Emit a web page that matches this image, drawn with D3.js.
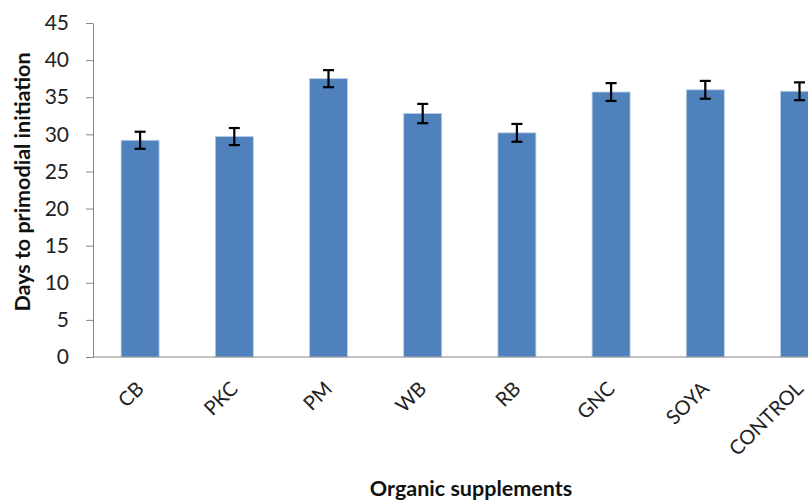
<!DOCTYPE html>
<html><head><meta charset="utf-8">
<script src="https://cdn.jsdelivr.net/npm/d3@7"></script>
<style>body{margin:0;background:#fff;} svg{display:block;}</style>
</head><body>
<script>
const categories = ["CB","PKC","PM","WB","RB","GNC","SOYA","CONTROL"];
const values = [29.2, 29.7, 37.5, 32.8, 30.2, 35.7, 36.0, 35.8];
const errors = [1.15, 1.15, 1.15, 1.3, 1.2, 1.2, 1.2, 1.2];
const yTicks = [0,5,10,15,20,25,30,35,40,45];

const W = 808, H = 500;
const font = "Lato, 'Open Sans', sans-serif";
const svg = d3.select("body").append("svg").attr("width", W).attr("height", H);

const x0 = 93, x1 = 93 + 94.2*8, yTop = 23, yBot = 357;
const x = d3.scaleBand().domain(categories).range([x0, x1]).paddingInner(0.597).paddingOuter(0.2985);
const y = d3.scaleLinear().domain([0,45]).range([yBot, yTop]);

// y axis
const yAxis = d3.axisLeft(y).tickValues(yTicks).tickSize(7).tickSizeOuter(0).tickPadding(6);
const gy = svg.append("g").attr("transform", `translate(${x0},0)`).call(yAxis);
gy.select(".domain").attr("stroke", "#868686");
gy.selectAll(".tick line").attr("stroke", "#868686");
gy.selectAll(".tick text").attr("font-family", font).attr("font-size", 21).attr("fill", "#222").attr("dx", -11);

// bars
svg.append("g").selectAll("rect").data(categories).join("rect")
  .attr("x", d => x(d)).attr("width", x.bandwidth())
  .attr("y", (d,i) => y(values[i])).attr("height", (d,i) => y(0) - y(values[i]))
  .attr("fill", "#4F81BD").attr("stroke", "#b8cce4").attr("stroke-width", 0.8);

// x axis line
svg.append("line").attr("x1", x0).attr("x2", W).attr("y1", y(0)).attr("y2", y(0))
  .attr("stroke", "#868686").attr("stroke-width", 1);

// error bars
const eb = svg.append("g").attr("stroke", "#000").attr("stroke-width", 2.2);
categories.forEach((c,i) => {
  const cx = x(c) + x.bandwidth()/2;
  const hi = y(values[i] + errors[i]), lo = y(values[i] - errors[i]);
  eb.append("line").attr("x1", cx).attr("x2", cx).attr("y1", hi).attr("y2", lo);
  eb.append("line").attr("x1", cx-5.5).attr("x2", cx+5.5).attr("y1", hi).attr("y2", hi);
  eb.append("line").attr("x1", cx-5.5).attr("x2", cx+5.5).attr("y1", lo).attr("y2", lo);
});

// x tick labels
svg.append("g").selectAll("text").data(categories).join("text")
  .attr("transform", d => `translate(${x(d) + x.bandwidth()/2 + 5},390) rotate(-45)`)
  .attr("text-anchor", "end").attr("font-family", font).attr("font-size", 20).attr("fill", "#222")
  .text(d => d);

// axis titles
svg.append("text").attr("x", 471).attr("y", 496).attr("text-anchor", "middle")
  .attr("font-family", font).attr("font-size", 21.5).attr("font-weight", "bold").attr("fill", "#111")
  .text("Organic supplements");
svg.append("text").attr("transform", "translate(30,182) rotate(-90)").attr("text-anchor", "middle")
  .attr("font-family", font).attr("font-size", 21.5).attr("font-weight", "bold").attr("fill", "#111")
  .text("Days to primodial initiation");
</script>
</body></html>
